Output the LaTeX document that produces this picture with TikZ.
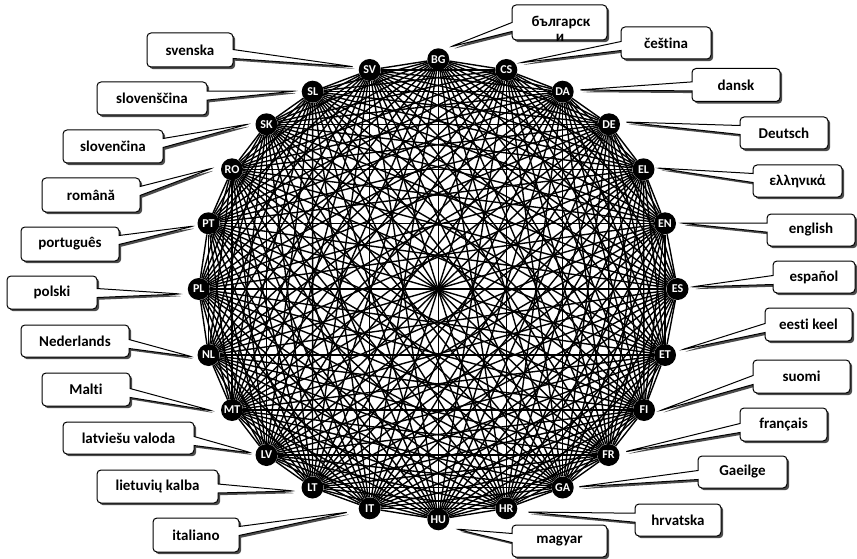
\documentclass[tikz,border=0pt]{standalone}
\usepackage{fontspec}
\setmainfont{Carlito}[Ligatures={NoCommon}]
\usetikzlibrary{shapes.callouts,shadows}
\pgfdeclarelayer{back}
\pgfdeclarelayer{edges}
\pgfsetlayers{back,edges,main}
\begin{document}
\begin{tikzpicture}[x=1pt,y=-1pt,
  lang/.style={circle,fill=black,text=white,inner sep=0pt,minimum size=22pt,
    font=\bfseries\fontsize{12}{12}\selectfont},
  edge/.style={line width=1.4pt,black},
  callbox/.style={rectangle callout,draw=black,line width=1pt,fill=white,
    rounded corners=4pt,callout pointer width=9pt,
    drop shadow={shadow xshift=2.2pt,shadow yshift=-2.2pt,fill=black!70,opacity=1},
    inner sep=0pt,font=\bfseries\fontsize{15}{18}\selectfont},
  txt/.style={inner sep=0pt,font=\bfseries\fontsize{15}{18}\selectfont}
]
\begin{pgfonlayer}{back}
\fill[white] (0,0) rectangle (857,559);
\end{pgfonlayer}
\useasboundingbox (0,0) rectangle (857,559);

% language nodes
\foreach \n/\x/\y in {BG/438.3/59.3, CS/506.3/70, DA/562.7/91.7, DE/609/124.3,
  EL/643.5/169.3, EN/665/223.3, ES/677.5/289, ET/665/355, FI/644/410,
  FR/608.5/455, GA/562.7/487.5, HR/506.3/508.3, HU/438.3/519.3,
  IT/369.7/508.3, LT/312.5/487.5, LV/266.5/455, MT/232/410, NL/208.5/355,
  PL/198.8/289, PT/208.5/223.3, RO/232/169.3, SK/266.5/124.3, SL/312.7/91.7,
  SV/369.7/70}
  \node[lang] (\n) at (\x,\y) {\n};

% complete graph
\begin{pgfonlayer}{edges}
\foreach \a [count=\i] in {BG,CS,DA,DE,EL,EN,ES,ET,FI,FR,GA,HR,HU,IT,LT,LV,MT,NL,PL,PT,RO,SK,SL,SV}{
  \foreach \b [count=\j] in {BG,CS,DA,DE,EL,EN,ES,ET,FI,FR,GA,HR,HU,IT,LT,LV,MT,NL,PL,PT,RO,SK,SL,SV}{
    \ifnum\j>\i \draw[edge] (\a) -- (\b);\fi
  }
}
\end{pgfonlayer}

% pointer tips
\foreach \n/\x/\y in {BG/450/47, CS/519/63, DA/578/90, DE/624/122, EL/657/168,
  EN/680/223, ES/691/287, ET/681/350, FI/659/411, FR/624/452, GA/577/487,
  HR/526/512, HU/456/529, IT/349/512, LT/294/491, LV/252/453, MT/213/411,
  NL/193/357, PL/181/294, PT/194/226, RO/213/168, SK/249/124, SL/296/91,
  SV/355/67}
  \coordinate (t\n) at (\x,\y);

% callouts: name/center x/center y/width/height/text
\foreach \n/\x/\y/\w/\h/\t in {
  CS/666/43/90/32/čeština,
  DA/736/85/88/33/dansk,
  DE/784/133/88/32/Deutsch,
  EL/797.5/181/89/32/ελληνικά,
  EN/811/230/88/32/english,
  ES/814/277/82/32/español,
  ET/808.5/324.5/87/33/eesti keel,
  FI/801.5/376.5/97/33/suomi,
  FR/783.5/424.5/87/33/français,
  GA/742.5/472/89/32/Gaeilge,
  HR/678/520/86/32/hrvatska,
  HU/559.5/541/95/32/magyar,
  IT/196/535/86/34/italiano,
  LT/157.5/486.5/121/33/lietuvių kalba,
  LV/128.5/438/131/32/latviešu valoda,
  MT/86/389.5/88/33/Malti,
  NL/75/341/108/32/Nederlands,
  PL/52/292.5/90/33/polski,
  PT/70/244/98/34/português,
  RO/91/195/98/34/română,
  SK/113/146.5/100/33/slovenčina,
  SL/152/98.5/110/33/slovenščina,
  SV/190/50/86/34/svenska}
  \node[callbox,minimum width=\w pt,minimum height=\h pt,
        callout absolute pointer={(t\n)}] (c\n) at (\x,\y) {\t};

% the Bulgarian label overflows its box
\node[callbox,minimum width=95pt,minimum height=35pt,
      callout absolute pointer={(tBG)}] (cBG) at (559.5,22.5) {};
\node[txt] (cBGa) at (561,23) {българск};
\node[txt] (cBGb) at (560,38) {и};
\end{tikzpicture}
\end{document}
